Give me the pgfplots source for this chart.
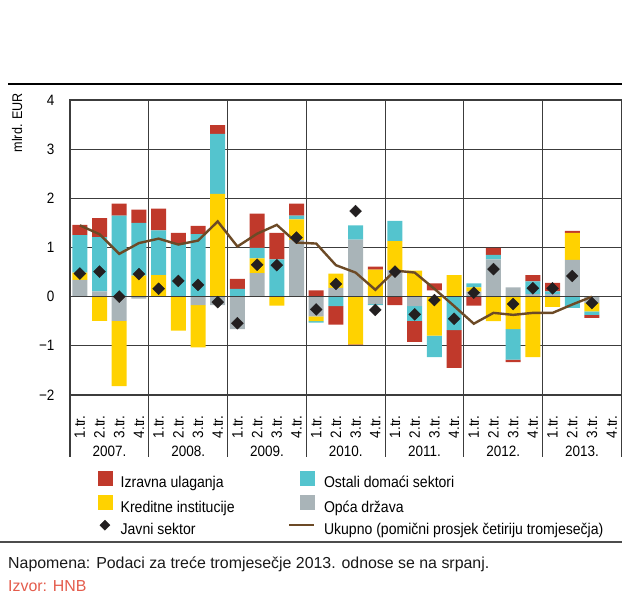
\documentclass[border=0pt]{standalone}
\usepackage{fontspec}
\setmainfont{Liberation Sans}
\newfontfamily\condf[FakeStretch=0.9]{Liberation Sans}
\usepackage{pgfplots}
\usepackage{pgfplotstable}
\pgfplotsset{compat=1.18}
\definecolor{cRed}{RGB}{192,57,43}
\definecolor{cYel}{RGB}{255,210,0}
\definecolor{cCya}{RGB}{84,196,206}
\definecolor{cGry}{RGB}{169,180,184}
\definecolor{cBrn}{RGB}{108,74,38}
\definecolor{cDia}{RGB}{35,31,32}
\definecolor{cIzv}{RGB}{228,92,76}
\definecolor{cGrid}{RGB}{60,60,60}

\pgfplotstableread{
x gap Gp Kp Op Ip Gn Kn On In J U
0 0 0.34 0.15 0.76 0.21 0 0 0 0 0.47 1.45
1 0 0.11 0 1.10 0.39 0 -0.49 0 0 0.51 1.27
2 0 0 0 1.65 0.24 -0.49 -1.33 0 0 0.00 0.87
3 0 0 0.43 1.07 0.27 -0.04 0 0 0 0.46 1.09
4 0 0 0.44 0.91 0.44 0 0 0 0 0.16 1.18
5 0 0 0 1.07 0.23 0 -0.69 0 0 0.32 1.06
6 0 0 0 1.27 0.17 -0.17 -0.86 0 0 0.24 1.14
7 0 0 2.09 1.22 0.18 -0.17 0 0 0 -0.11 1.53
8 0 0 0 0.16 0.20 -0.66 0 0 0 -0.54 1.02
9 0 0.48 0.30 0.21 0.70 0 0 0 0 0.65 1.28
10 0 0 0 0.76 0.54 0 -0.18 0 0 0.64 1.46
11 0 1.15 0.42 0.08 0.24 0 0 0 0 1.20 1.10
12 0 0 0 0 0.13 -0.40 -0.10 -0.03 0 -0.26 1.08
13 0 0.18 0.29 0 0 0 0 -0.19 -0.38 0.26 0.64
14 0 1.16 0 0.29 0 0 -0.97 0 -0.01 1.74 0.49
15 0 0 0.55 0 0.06 -0.15 0 -0.02 0 -0.27 0.14
16 0 0.54 0.59 0.41 0 0 0 0 -0.17 0.51 0.53
17 0 0 0.53 0 0 -0.19 0 -0.30 -0.43 -0.36 0.49
18 0.13 0 0 0 0.14 0 -0.79 -0.44 0 -0.07 0.16
19 0 0 0.44 0 0 0 0 -0.68 -0.77 -0.45 -0.19
20 0 0.10 0.09 0.08 0 0 0 0 -0.18 0.08 -0.55
21 0 0.76 0 0.09 0.14 0 -0.50 0 0 0.56 -0.33
22 0 0.19 0 0 0 0 -0.66 -0.62 -0.05 -0.15 -0.37
23 0 0.05 0 0.26 0.13 0 -1.23 0 0 0.17 -0.33
24 0 0.05 0 0.06 0.17 0 -0.21 0 0 0.17 -0.33
25 0 0.75 0.55 0 0.04 0 0 -0.23 0 0.42 -0.16
26 0 0 0 0 0 -0.13 -0.17 -0.07 -0.06 -0.13 0.00
}\datatable

\pgfplotsset{
  common/.style={at={(70bp,206bp)}, anchor=south west, scale only axis,
    width=551.5bp, height=295bp, xmin=-0.5, xmax=27.5, ymin=-2, ymax=4},
  tfont/.style={font=\condf\fontsize{15bp}{18bp}\selectfont},
}

\begin{document}
\begin{tikzpicture}
\path[use as bounding box] (0bp,0bp) rectangle (622bp,601bp);

% main axis: grid, quarter labels, positive stack, legend
\begin{axis}[common, ybar stacked, bar width=15bp,
  axis line style={cGrid, line width=1.2bp},
  ytick={-2,...,4}, yticklabels={−2,−1,0,1,2,3,4},
  ymajorgrids, major grid style={cGrid, line width=1.1bp},
  ytick style={draw=none},
  xtick={0,...,27},
  xticklabels={1.tr.,2.tr.,3.tr.,4.tr.,1.tr.,2.tr.,3.tr.,4.tr.,1.tr.,2.tr.,3.tr.,4.tr.,1.tr.,2.tr.,3.tr.,4.tr.,1.tr.,2.tr.,3.tr.,4.tr.,1.tr.,2.tr.,3.tr.,4.tr.,1.tr.,2.tr.,3.tr.,4.tr.},
  major x tick style={draw=none},
  minor xtick={-0.5,3.5,7.5,11.5,15.5,19.5,23.5,27.5},
  xminorgrids, minor grid style={cGrid, line width=1.1bp},
  minor x tick style={cGrid, line width=1.1bp},
  minor tick length=62bp, major tick length=0bp, tick align=outside, tick pos=left,
  tick label style={tfont},
  xticklabel style={yshift=-17bp, rotate=90, anchor=east},
  yticklabel style={xshift=-12bp},
  legend columns=2,
  legend cell align=left,
  legend style={draw=none, fill=none, at={(0.0250,-0.249)}, anchor=north west,
    font=\condf\fontsize{15.6bp}{18bp}\selectfont,
    row sep=5.5bp, nodes={inner sep=0.5bp},
    /tikz/every odd column/.append style={column sep=8bp},
    /tikz/every even column/.append style={column sep=53bp}},
]
\addlegendimage{legend image code/.code={\path[draw=none,fill=none] (0bp,0bp) rectangle (25bp,0bp); \fill[cRed] (11bp,-2bp) rectangle (25bp,12bp);}}
\addlegendentry{Izravna ulaganja}
\addlegendimage{legend image code/.code={\path[draw=none,fill=none] (0bp,0bp) rectangle (25bp,0bp); \fill[cCya] (11bp,-2bp) rectangle (25bp,12bp);}}
\addlegendentry{Ostali domaći sektori}
\addlegendimage{legend image code/.code={\path[draw=none,fill=none] (0bp,0bp) rectangle (25bp,0bp); \fill[cYel] (11bp,-2bp) rectangle (25bp,12bp);}}
\addlegendentry{Kreditne institucije}
\addlegendimage{legend image code/.code={\path[draw=none,fill=none] (0bp,0bp) rectangle (25bp,0bp); \fill[cGry] (11bp,-2bp) rectangle (25bp,12bp);}}
\addlegendentry{Opća država}
\addlegendimage{legend image code/.code={\path[draw=none,fill=none] (0bp,0bp) rectangle (25bp,0bp); \fill[cDia] (18bp,-0.5bp) -- (23bp,4.5bp) -- (18bp,9.5bp) -- (13bp,4.5bp) -- cycle;}}
\addlegendentry{Javni sektor}
\addlegendimage{legend image code/.code={\path[draw=none,fill=none] (0bp,0bp) rectangle (25bp,0bp); \draw[cBrn, line width=2.4bp] (0bp,4.5bp) -- (25bp,4.5bp);}}
\addlegendentry{Ukupno (pomični prosjek četiriju tromjesečja)}

\addplot[draw=none, fill=none] table[x=x, y=gap] {\datatable};
\addplot[draw=none, fill=cGry] table[x=x, y=Gp] {\datatable};
\addplot[draw=none, fill=cYel] table[x=x, y=Kp] {\datatable};
\addplot[draw=none, fill=cCya] table[x=x, y=Op] {\datatable};
\addplot[draw=none, fill=cRed] table[x=x, y=Ip] {\datatable};
\end{axis}

% second axis: negative stack and year labels
\begin{axis}[common, ybar stacked, bar width=15bp,
  axis line style={draw=none}, ytick=\empty,
  xtick={1.5,5.5,9.5,13.5,17.5,21.5,25.5},
  xticklabels={2007.,2008.,2009.,2010.,2011.,2012.,2013.},
  tick style={draw=none}, major tick length=0bp,
  xticklabel style={tfont, yshift=-48bp},
]
\addplot[draw=none, fill=cGry] table[x=x, y=Gn] {\datatable};
\addplot[draw=none, fill=cYel] table[x=x, y=Kn] {\datatable};
\addplot[draw=none, fill=cCya] table[x=x, y=On] {\datatable};
\addplot[draw=none, fill=cRed] table[x=x, y=In] {\datatable};
\end{axis}

% third axis: zero line, moving average, public sector
\begin{axis}[common, hide axis]
\addplot[cGrid, line width=1.1bp] coordinates {(-0.5,0) (27.5,0)};
\addplot[cBrn, line width=2.4bp, no markers] table[x=x, y=U] {\datatable};
\addplot[only marks, mark=square*, mark size=4.2bp, mark options={rotate=45, fill=cDia, draw=cDia}] table[x=x, y=J] {\datatable};
\end{axis}

\node[rotate=90, anchor=east, inner sep=0pt, font=\condf\fontsize{14bp}{16bp}\selectfont] at (17bp,508bp) {mlrd. EUR};
\draw[black, line width=1.3bp] (8bp,517bp) -- (622bp,517bp);
\draw[black!70, line width=1.1bp] (0bp,59bp) -- (622bp,59bp);
\node[anchor=base west, inner sep=0pt, font=\fontsize{15.9bp}{18bp}\selectfont, text=black!90] at (8bp,33bp) {Napomena: Podaci za treće tromjesečje 2013. odnose se na srpanj.};
\node[anchor=base west, inner sep=0pt, font=\fontsize{15.9bp}{18bp}\selectfont, text=cIzv] at (8bp,10bp) {Izvor: HNB};
\end{tikzpicture}
\end{document}
